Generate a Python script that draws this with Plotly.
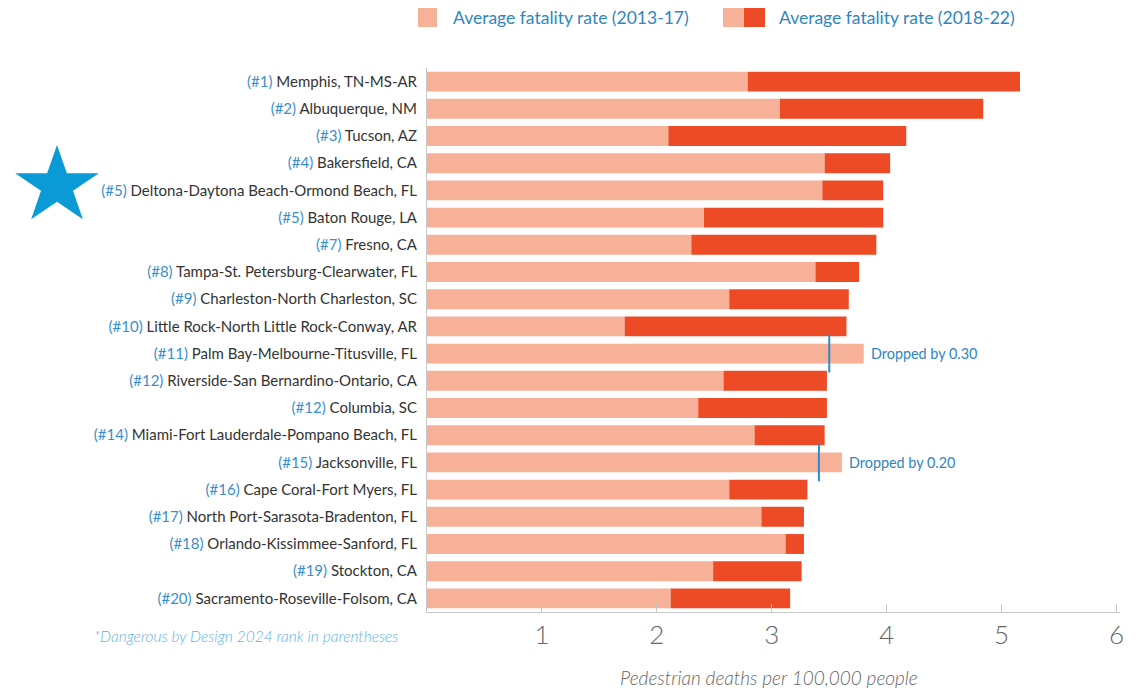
import math
import plotly.graph_objects as go

# ---------------- data ----------------
ranks = ["#1", "#2", "#3", "#4", "#5", "#5", "#7", "#8", "#9", "#10",
         "#11", "#12", "#12", "#14", "#15", "#16", "#17", "#18", "#19", "#20"]
metros = ["Memphis, TN-MS-AR", "Albuquerque, NM", "Tucson, AZ", "Bakersfield, CA",
          "Deltona-Daytona Beach-Ormond Beach, FL", "Baton Rouge, LA", "Fresno, CA",
          "Tampa-St. Petersburg-Clearwater, FL", "Charleston-North Charleston, SC",
          "Little Rock-North Little Rock-Conway, AR", "Palm Bay-Melbourne-Titusville, FL",
          "Riverside-San Bernardino-Ontario, CA", "Columbia, SC",
          "Miami-Fort Lauderdale-Pompano Beach, FL", "Jacksonville, FL",
          "Cape Coral-Fort Myers, FL", "North Port-Sarasota-Bradenton, FL",
          "Orlando-Kissimmee-Sanford, FL", "Stockton, CA", "Sacramento-Roseville-Folsom, CA"]
rate_2013_17 = [2.79, 3.07, 2.10, 3.46, 3.44, 2.41, 2.30, 3.38, 2.63, 1.72,
                3.80, 2.58, 2.36, 2.85, 3.61, 2.63, 2.91, 3.12, 2.49, 2.12]
rate_2018_22 = [5.16, 4.84, 4.17, 4.03, 3.97, 3.97, 3.91, 3.76, 3.67, 3.65,
                3.50, 3.48, 3.48, 3.46, 3.41, 3.31, 3.28, 3.28, 3.26, 3.16]
x_ticks = [1, 2, 3, 4, 5, 6]

# ---------------- style ----------------
OFF = 8  # page body margin
W, H = 1140 - OFF, 688 - OFF
ML, MR, MT, MB = 427 - OFF, 20, 68 - OFF, 76
LIGHT = "#F7B199"
DARK = "#EC4B25"
BLUE = "#2E86C1"
RANKBLUE = "#3A8FCB"
STAR = "#0A9BD7"
FONT = "Lato"

pw = W - ML - MR
ph = H - MT - MB


def px(x):
    return (x - OFF - ML) / pw


def py(y):
    return (H - MB - (y - OFF)) / ph


ticktext = [f"<span style='color:{RANKBLUE}'>({r})</span> {m}" for r, m in zip(ranks, metros)]

fig = go.Figure()

fig.add_trace(go.Bar(
    y=metros, x=rate_2013_17, orientation="h",
    marker=dict(color=LIGHT, line=dict(width=0)),
    name="Average fatality rate (2013-17)", showlegend=False,
))

inc_y = [m for m, a, b in zip(metros, rate_2013_17, rate_2018_22) if b > a]
inc_base = [a for a, b in zip(rate_2013_17, rate_2018_22) if b > a]
inc_len = [b - a for a, b in zip(rate_2013_17, rate_2018_22) if b > a]
fig.add_trace(go.Bar(
    y=inc_y, x=inc_len, base=inc_base, orientation="h",
    marker=dict(color=DARK, line=dict(width=0)),
    name="Average fatality rate (2018-22)", showlegend=False,
))

dec_y = [m for m, a, b in zip(metros, rate_2013_17, rate_2018_22) if b < a]
dec_x = [b for a, b in zip(rate_2013_17, rate_2018_22) if b < a]
fig.add_trace(go.Scatter(
    y=dec_y, x=dec_x, mode="markers",
    marker=dict(symbol="line-ns-open", size=27, color="#2A8CCB",
                line=dict(color="#2A8CCB", width=2)),
    showlegend=False, hoverinfo="skip",
))

annotations = []
for m, a, b in zip(metros, rate_2013_17, rate_2018_22):
    if b < a:
        annotations.append(dict(
            x=a, y=m, xref="x", yref="y", xanchor="left", yanchor="middle",
            xshift=5, text=f"Dropped by {a - b:.2f}", showarrow=False,
            font=dict(family=FONT, size=14.4, color=BLUE),
        ))

shapes = [
    dict(type="rect", xref="paper", yref="paper", x0=px(418), x1=px(437), y0=py(27), y1=py(8),
         fillcolor=LIGHT, line=dict(width=0), layer="above"),
    dict(type="rect", xref="paper", yref="paper", x0=px(723), x1=px(744), y0=py(27), y1=py(8),
         fillcolor=LIGHT, line=dict(width=0), layer="above"),
    dict(type="rect", xref="paper", yref="paper", x0=px(744), x1=px(765), y0=py(27), y1=py(8),
         fillcolor=DARK, line=dict(width=0), layer="above"),
]
annotations += [
    dict(x=px(451), y=py(17), xref="paper", yref="paper", xanchor="left", yanchor="middle",
         text="Average fatality rate (2013-17)", showarrow=False,
         font=dict(family=FONT, size=17.5, color=BLUE)),
    dict(x=px(777), y=py(17), xref="paper", yref="paper", xanchor="left", yanchor="middle",
         text="Average fatality rate (2018-22)", showarrow=False,
         font=dict(family=FONT, size=17.5, color=BLUE)),
    dict(x=px(92), y=py(636), xref="paper", yref="paper", xanchor="left", yanchor="middle",
         text="<i>*Dangerous by Design 2024 rank in parentheses</i>", showarrow=False,
         font=dict(family=FONT, size=15.5, color="#5FB3DD", weight=300)),
    dict(x=px(769), y=py(677), xref="paper", yref="paper", xanchor="center", yanchor="middle",
         text="<i>Pedestrian deaths per 100,000 people</i>", showarrow=False,
         font=dict(family=FONT, size=19, color="#666666", weight=300)),
]

cx, cy, rx, ry = 57, 186, 44, 41
pts = []
for k in range(10):
    ang = math.pi / 2 + k * math.pi / 5
    f = 1.0 if k % 2 == 0 else 0.382
    pts.append((cx + rx * f * math.cos(ang), cy - ry * f * math.sin(ang)))
path = "M " + " L ".join(f"{px(x):.5f},{py(y):.5f}" for x, y in pts) + " Z"
shapes.append(dict(type="path", xref="paper", yref="paper", path=path,
                   fillcolor=STAR, line=dict(width=0)))

fig.update_layout(
    width=W, height=H,
    margin=dict(l=ML, r=MR, t=MT, b=MB, pad=0),
    paper_bgcolor="white", plot_bgcolor="white",
    barmode="overlay", bargap=0.27,
    font=dict(family=FONT, color="#333333"),
    showlegend=False,
    shapes=shapes,
    annotations=annotations,
    xaxis=dict(
        range=[0, 6.03], tickvals=x_ticks, ticktext=[str(t) for t in x_ticks],
        showgrid=False, zeroline=False, showline=True, linecolor="#C8C8C8", linewidth=1,
        ticks="inside", ticklen=8, tickcolor="#C8C8C8",
        tickfont=dict(family=FONT, size=26, color="#666666", weight=300),
    ),
    yaxis=dict(
        categoryorder="array", categoryarray=metros, range=[19.5, -0.5],
        tickvals=metros, ticktext=ticktext,
        showgrid=False, zeroline=False, showline=True, linecolor="#C8C8C8", linewidth=1,
        ticks="", ticklabelstandoff=6,
        tickfont=dict(family=FONT, size=15, color="#333333"),
    ),
)

fig.write_html("out.html")
